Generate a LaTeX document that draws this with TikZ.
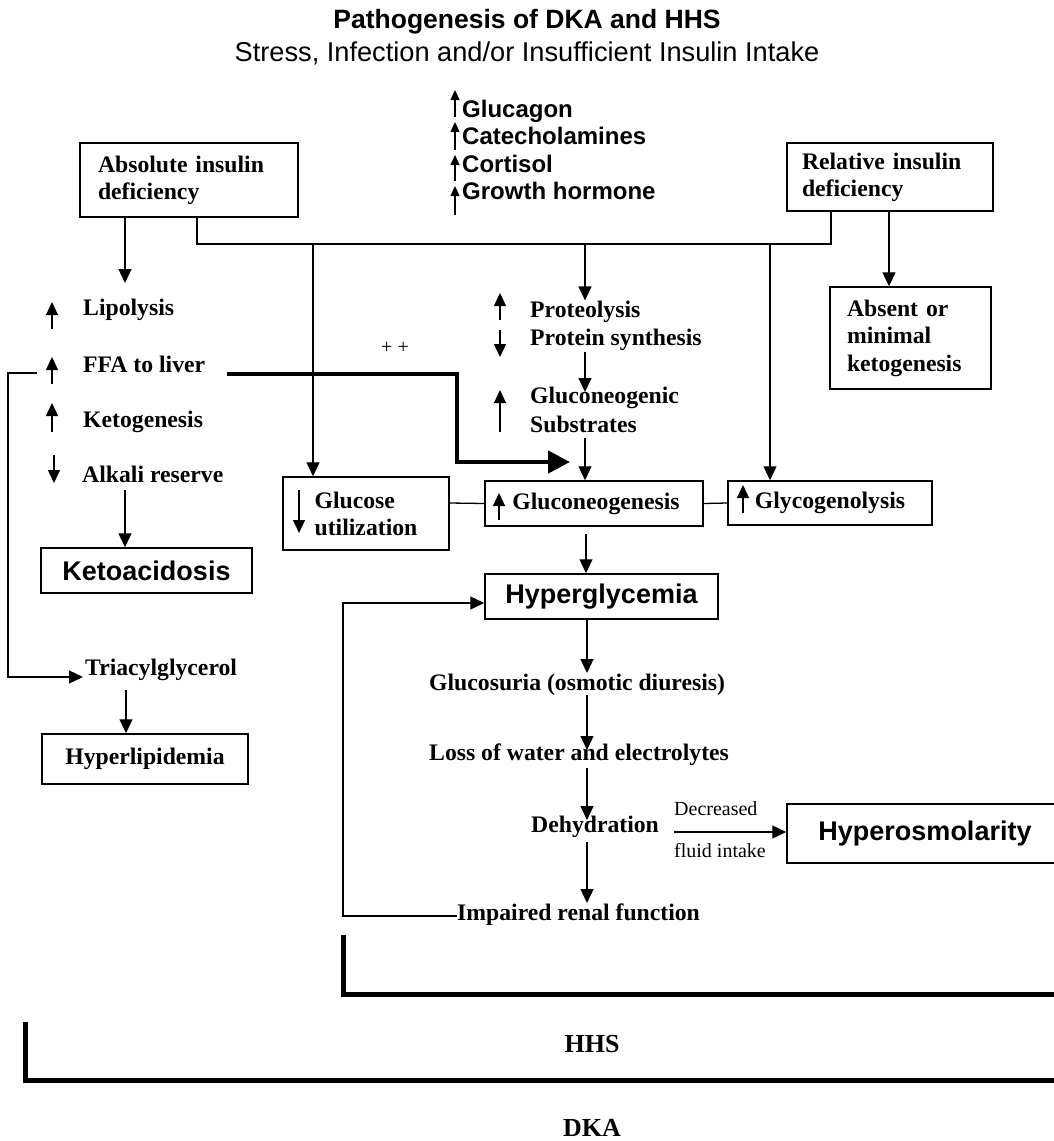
\documentclass[tikz,border=0pt]{standalone}
\usepackage{fontspec}
\setmainfont{Liberation Serif}
\setsansfont{Liberation Sans}
\usetikzlibrary{arrows.meta,calc}
\begin{document}
\begin{tikzpicture}[x=1pt,y=-1pt,
  ln/.style={line width=1.3pt},
  arr/.style={line width=1.3pt,-{Triangle[length=14pt,width=13pt]}},
  sarr/.style={line width=1.2pt,-{Triangle[length=13pt,width=12pt]}},
  harr/.style={line width=1.2pt,-{Triangle[length=10pt,width=9pt]}},
  thk/.style={line width=4.5pt,-{Triangle[length=22pt,width=22pt]}},
  brk/.style={line width=5pt},
  bt/.style={font=\fontsize{23.7}{27}\selectfont\bfseries},
  skt/.style={font=\sffamily\bfseries\fontsize{27}{30}\selectfont},
  horm/.style={font=\sffamily\bfseries\fontsize{24}{27}\selectfont,anchor=base west,inner sep=0pt},
  tx/.style={bt,anchor=base west,inner sep=0pt},
  small/.style={font=\fontsize{20}{24}\selectfont,anchor=base west,inner sep=0pt},
  box/.style={draw,line width=1.5pt,inner sep=0pt}]
\useasboundingbox (0,0) rectangle (1054,1141);
\clip (0,0) rectangle (1054,1141);
\fill[white] (0,0) rectangle (1054,1141);

% title
\node[font=\sffamily\bfseries\fontsize{26.5}{30}\selectfont] (title) at (527,22) {Pathogenesis of DKA and HHS};
\node[font=\sffamily\fontsize{27.2}{30}\selectfont] (subtitle) at (527,53) {Stress, Infection and/or Insufficient Insulin Intake};

% hormones
\node[horm] (glucagon) at (462,117) {Glucagon};
\node[horm] (catechol) at (462,144) {Catecholamines};
\node[horm] (cortisol) at (462,172) {Cortisol};
\node[horm] (growth) at (462,199) {Growth hormone};
\draw[harr] (455,117) -- (455,90);
\draw[harr] (455,150) -- (455,122);
\draw[harr] (455,181) -- (455,155);
\draw[harr] (455,215) -- (455,186);

% top boxes
\node[box,bt,text width=182pt,inner xsep=18pt,align=left,minimum height=74pt] (absolute) at (189,180) {Absolute insulin\\deficiency};
\node[box,bt,text width=176pt,inner xsep=15pt,align=left,minimum height=68pt] (relative) at (890,177) {Relative insulin\\deficiency};
\node[box,font=\fontsize{23.7}{27.5}\selectfont\bfseries,text width=127pt,inner xsep=17pt,align=left,minimum height=102pt] (absent) at (910.5,338) {Absent or\\minimal\\ketogenesis};

% bus
\coordinate (busL) at (197,244);
\coordinate (busR) at (831,244);
\coordinate (b1) at (313,244);
\coordinate (b2) at (585,244);
\coordinate (b3) at (770,244);
\draw[ln] (absolute.south -| busL) -- (busL) -- (busR) -- (relative.south -| busR);
\draw[arr] ([xshift=-1pt]relative.south) -- ([xshift=-1pt]relative.south |- absent.north);

% left column
\node[tx] (lipo) at (83,315) {Lipolysis};
\node[tx] (ffa) at (83,372) {FFA to liver};
\node[tx] (ketog) at (83,427) {Ketogenesis};
\node[tx] (alkali) at (82,482) {Alkali reserve};
\draw[sarr] (52,329) -- (52,302);
\draw[sarr] (52,384) -- (52,357);
\draw[sarr] (52,432) -- (52,403);
\draw[sarr] (54,455) -- (54,483);
\coordinate (la) at (125,283);
\draw[arr] (absolute.south -| la) -- (la);
\node[box,skt,minimum width=211pt,minimum height=45pt] (keto) at (146.5,570.5) {Ketoacidosis};
\coordinate (ka) at (125,490);
\draw[arr] (ka) -- (ka |- keto.north);
\node[tx] (triacyl) at (85,675) {Triacylglycerol};
\coordinate (ffaL) at (37,373);
\coordinate (triIn) at (83,677);
\draw[arr] (ffaL) -- (8,373) -- (8,677) -- (triIn);
\node[box,bt,minimum width=206pt,minimum height=50pt] (hyperlip) at (145,759) {Hyperlipidemia};
\coordinate (ta) at (126,690);
\draw[arr] (ta) -- (ta |- hyperlip.north);

% centre column
\node[tx] (proteo) at (530,317) {Proteolysis};
\node[tx] (protsyn) at (530,345) {Protein synthesis};
\node[tx] (gneo1) at (530,403) {Gluconeogenic};
\node[tx] (gneo2) at (530,432) {Substrates};
\draw[sarr] (500,320) -- (500,293);
\draw[sarr] (500,330) -- (500,357);
\draw[sarr] (500,432) -- (500,390);
\draw[arr] (b2) -- (b2 |- proteo.north);
\coordinate (ps) at (585,352);
\draw[arr] (ps) -- (585,392);

% glucose row
\node[box,bt,align=left,minimum width=166pt,minimum height=73pt] (glucose) at (366,513.5) {Glucose\\utilization};
\node[box,bt,minimum width=218pt,minimum height=45pt] (gluconeo) at (594,503.5) {\hspace*{4pt}Gluconeogenesis};
\node[box,bt,minimum width=204pt,minimum height=44pt] (glyco) at (830,503) {Glycogenolysis};
\draw[sarr] (299,490) -- (299,533);
\draw[sarr] (499,520) -- (499,493);
\draw[sarr] (743,513) -- (743,485);
\draw[arr] (b1) -- (b1 |- glucose.north);
\draw[arr] (b3) -- (b3 |- glyco.north);
\coordinate (sb) at (585,438);
\draw[arr] (sb) -- (sb |- gluconeo.north);
\draw[ln] ([yshift=10.5pt]glucose.east) -- (gluconeo.west);
\draw[ln] (gluconeo.east) -- (glyco.west);

% thick FFA arrow
\coordinate (ffaR) at (227,374);
\coordinate (gnIn) at (570,462);
\draw[thk] (ffaR) -- (457,374) -- (457,462) -- (gnIn);
\node[font=\fontsize{20}{24}\selectfont] (plus) at (395,348) {+ +};

% hyperglycemia chain
\node[box,skt,minimum width=233pt,minimum height=45pt] (hyperg) at (601.5,596.5) {Hyperglycemia};
\coordinate (gh) at (586,534);
\draw[arr] (gh) -- (gh |- hyperg.north);
\node[tx] (glucosuria) at (429,690) {Glucosuria (osmotic diuresis)};
\node[tx] (loss) at (429,760) {Loss of water and electrolytes};
\node[tx] (dehyd) at (531,832) {Dehydration};
\node[tx] (impaired) at (457,920) {Impaired renal function};
\coordinate (hc) at (587,619);
\draw[arr] (hc) -- (587,673);
\draw[arr] (587,695) -- (587,750);
\draw[arr] (587,768) -- (587,820);
\draw[arr] (587,842) -- (587,903);
\coordinate (loopL) at (343,916);
\draw[arr] (impaired.west |- loopL) -- (loopL) |- ([yshift=-6.5pt]hyperg.west);

% hyperosmolarity
\node[box,skt,minimum width=276pt,minimum height=59pt] (hyperosm) at (925,833.5) {Hyperosmolarity};
\coordinate (dA) at (674,832);
\draw[arr] (dA) -- (dA -| hyperosm.west);
\node[small] (decr) at (674,815) {Decreased};
\node[small] (fluid) at (674,857) {fluid intake};

% brackets
\draw[brk] (343,935) -- (343,994) -- (1060,994);
\draw[brk] (25,1022) -- (25,1080) -- (1060,1080);
\node[font=\fontsize{26}{30}\selectfont\bfseries] (hhs) at (592,1044) {HHS};
\node[font=\fontsize{26}{30}\selectfont\bfseries] (dka) at (592,1128) {DKA};
\end{tikzpicture}
\end{document}
